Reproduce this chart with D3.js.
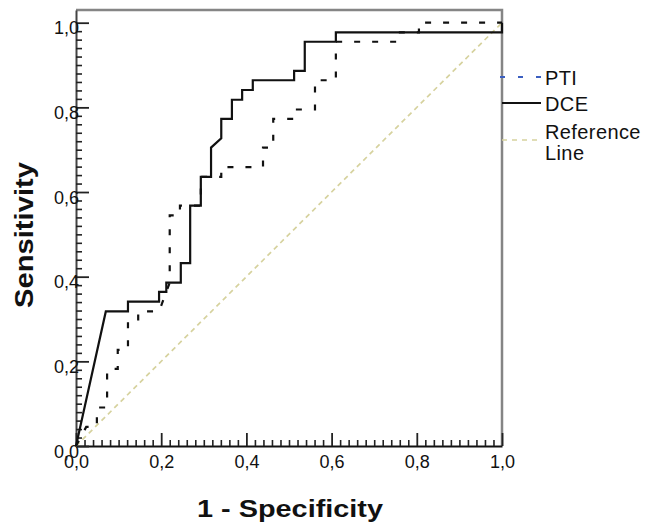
<!DOCTYPE html>
<html>
<head>
<meta charset="utf-8">
<script src="https://cdn.jsdelivr.net/npm/d3@7"></script>
<style>
  body { margin: 0; background: #fff; }
  text { font-family: "Liberation Sans", Arial, sans-serif; fill: #111; }
</style>
</head>
<body>
<svg id="chart" width="647" height="527"></svg>
<script>
// ROC points (1 - specificity, sensitivity)
const dceFpr = [0, 0.070, 0.122, 0.122, 0.195, 0.195, 0.212, 0.212, 0.246, 0.246, 0.268, 0.268, 0.293, 0.293, 0.317, 0.317, 0.341, 0.341, 0.366, 0.366, 0.390, 0.390, 0.415, 0.415, 0.512, 0.512, 0.537, 0.537, 0.610, 0.610, 1.0, 1.0];
const dceTpr = [0, 0.318, 0.318, 0.341, 0.341, 0.364, 0.364, 0.386, 0.386, 0.432, 0.432, 0.568, 0.568, 0.636, 0.636, 0.705, 0.727, 0.773, 0.773, 0.818, 0.818, 0.841, 0.841, 0.864, 0.864, 0.886, 0.886, 0.955, 0.955, 0.977, 0.977, 1.0];

const ptiFpr = [0, 0.024, 0.049, 0.049, 0.073, 0.073, 0.098, 0.098, 0.122, 0.122, 0.146, 0.146, 0.195, 0.220, 0.220, 0.244, 0.244, 0.293, 0.293, 0.341, 0.341, 0.439, 0.439, 0.463, 0.463, 0.512, 0.512, 0.561, 0.561, 0.610, 0.610, 0.756, 0.756, 0.805, 0.805, 1.0];
const ptiTpr = [0, 0.045, 0.045, 0.091, 0.091, 0.182, 0.182, 0.227, 0.227, 0.295, 0.295, 0.318, 0.318, 0.386, 0.545, 0.545, 0.568, 0.568, 0.636, 0.636, 0.659, 0.659, 0.705, 0.705, 0.773, 0.773, 0.795, 0.795, 0.864, 0.864, 0.955, 0.955, 0.977, 0.977, 1.0, 1.0];

const refFpr = [0, 1];
const refTpr = [0, 1];

const majorTicks = [0, 0.2, 0.4, 0.6, 0.8, 1.0];
const minorTicks = d3.range(0, 51).map(i => i / 50).filter(v => Math.round(v * 50) % 10 !== 0);

const legendLabels = ["PTI", "DCE", "Reference", "Line"];

const svg = d3.select("#chart");

const x = d3.scaleLinear().domain([0, 1]).range([76, 502]);
const y = d3.scaleLinear().domain([0, 1.03]).range([446, 10]);

const commaFmt = d3.formatLocale({ decimal: ",", thousands: ".", grouping: [3], currency: ["", ""] }).format(".1f");

// frame (top + right, grey)
svg.append("path")
  .attr("d", `M${x(0)},${y(1.03)}H${x(1)}V${y(0)}`)
  .attr("fill", "none")
  .attr("stroke", "#858585")
  .attr("stroke-width", 2.5);

// minor ticks
svg.append("g")
  .attr("transform", `translate(${x(0)},0)`)
  .call(d3.axisLeft(y).tickValues(minorTicks).tickSize(-6).tickSizeOuter(0).tickFormat(""))
  .call(g => g.selectAll("line").attr("stroke", "#222").attr("stroke-width", 1.6))
  .call(g => g.select(".domain").attr("stroke", "#444").attr("stroke-width", 2));

svg.append("g")
  .attr("transform", `translate(0,${y(0)})`)
  .call(d3.axisBottom(x).tickValues(minorTicks).tickSize(-6).tickSizeOuter(0).tickFormat(""))
  .call(g => g.selectAll("line").attr("stroke", "#222").attr("stroke-width", 1.6))
  .call(g => g.select(".domain").attr("stroke", "#111").attr("stroke-width", 2));

// major ticks + labels
svg.append("g")
  .attr("transform", `translate(${x(0)},0)`)
  .call(d3.axisLeft(y).tickValues(majorTicks).tickSize(-13).tickSizeOuter(0).tickPadding(-3).tickFormat(commaFmt))
  .call(g => g.select(".domain").remove())
  .call(g => g.selectAll("line").attr("stroke", "#222").attr("stroke-width", 1.8))
  .call(g => g.selectAll("text")
    .attr("dy", "0.62em")
    .style("font-size", "18px")
    .style("font-family", "'Liberation Sans', Arial, sans-serif")
    .attr("fill", "#222"));

svg.append("g")
  .attr("transform", `translate(0,${y(0)})`)
  .call(d3.axisBottom(x).tickValues(majorTicks).tickSize(-13).tickSizeOuter(0).tickPadding(9).tickFormat(commaFmt))
  .call(g => g.select(".domain").remove())
  .call(g => g.selectAll("line").attr("stroke", "#222").attr("stroke-width", 1.8))
  .call(g => g.selectAll("text")
    .style("font-size", "18px")
    .style("font-family", "'Liberation Sans', Arial, sans-serif")
    .attr("fill", "#222"));

// curves
const line = d3.line().x(d => x(d[0])).y(d => y(d[1]));

svg.append("path")
  .datum(d3.zip(refFpr, refTpr))
  .attr("d", line)
  .attr("fill", "none")
  .attr("stroke", "#d6d29e")
  .attr("stroke-width", 1.7)
  .attr("stroke-dasharray", "5,4");

svg.append("path")
  .datum(d3.zip(ptiFpr, ptiTpr))
  .attr("d", line)
  .attr("fill", "none")
  .attr("stroke", "#111")
  .attr("stroke-width", 2.2)
  .attr("stroke-dasharray", "6,12");

svg.append("path")
  .datum(d3.zip(dceFpr, dceTpr))
  .attr("d", line)
  .attr("fill", "none")
  .attr("stroke", "#111")
  .attr("stroke-width", 2.2);

// legend
const lg = svg.append("g");
lg.append("line").attr("x1", 500).attr("x2", 541).attr("y1", 77).attr("y2", 77)
  .attr("stroke", "#3b5fc0").attr("stroke-width", 2).attr("stroke-dasharray", "5,13");
lg.append("line").attr("x1", 502).attr("x2", 541).attr("y1", 103).attr("y2", 103)
  .attr("stroke", "#111").attr("stroke-width", 2);
lg.append("line").attr("x1", 502).attr("x2", 541).attr("y1", 140).attr("y2", 140)
  .attr("stroke", "#d6d29e").attr("stroke-width", 1.7).attr("stroke-dasharray", "5,5");

const legendY = [85, 111, 139, 160];
lg.selectAll("text.leg")
  .data(legendLabels)
  .enter()
  .append("text")
  .attr("class", "leg")
  .attr("x", 545)
  .attr("y", (d, i) => legendY[i])
  .style("font-size", "20px")
  .style("letter-spacing", "0.4px")
  .text(d => d);

// axis titles
svg.append("text")
  .attr("transform", "translate(33,235) rotate(-90)")
  .attr("text-anchor", "middle")
  .attr("textLength", 146)
  .attr("lengthAdjust", "spacingAndGlyphs")
  .style("font-size", "26px")
  .style("font-weight", "bold")
  .text("Sensitivity");

svg.append("text")
  .attr("x", 290)
  .attr("y", 517)
  .attr("text-anchor", "middle")
  .attr("textLength", 186)
  .attr("lengthAdjust", "spacingAndGlyphs")
  .style("font-size", "24px")
  .style("font-weight", "bold")
  .text("1 - Specificity");
</script>
</body>
</html>
